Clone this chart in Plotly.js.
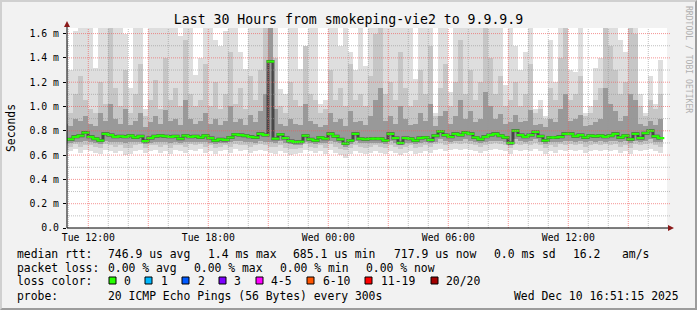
<!DOCTYPE html>
<html><head><meta charset="utf-8">
<script src="https://cdn.plot.ly/plotly-3.0.1.min.js"></script>
<style>
html,body{margin:0;padding:0;background:#f2f2f2;}
#wrap{position:relative;width:697px;height:310px;overflow:hidden;}
#chart{width:697px;height:310px;}
#frame{position:absolute;left:0;top:0;width:697px;height:310px;box-sizing:border-box;border-top:2px solid #d0d0d0;border-left:2px solid #d0d0d0;border-right:2px solid #9c9c9c;border-bottom:2px solid #9c9c9c;pointer-events:none;}
</style></head>
<body><div id="wrap"><div id="chart"></div><div id="frame"></div></div>
<script>
// ---- data (ms), 15-minute bins starting Tue 2025-12-09 10:44 ----
const binStartUTC = Date.UTC(2025, 11, 9, 10, 44, 0);
const binMinutes = 15;

const median = [
 0.73,0.73,0.75,0.76,0.785,0.75,0.735,0.72,0.775,0.765,
 0.75,0.755,0.75,0.76,0.745,0.755,0.715,0.74,0.755,0.76,
 0.755,0.75,0.755,0.735,0.76,0.75,0.755,0.745,0.76,0.74,
 0.72,0.73,0.725,0.745,0.77,0.765,0.76,0.75,0.745,0.775,
 0.765,1.37,0.735,0.77,0.74,0.715,0.707,0.71,0.76,0.73,
 0.72,0.745,0.735,0.775,0.755,0.73,0.695,0.72,0.775,0.735,
 0.73,0.735,0.735,0.735,0.72,0.775,0.74,0.70,0.74,0.735,
 0.72,0.74,0.745,0.725,0.76,0.795,0.765,0.75,0.775,0.765,
 0.785,0.775,0.745,0.73,0.75,0.765,0.775,0.76,0.745,0.70,
 0.80,0.765,0.75,0.765,0.79,0.755,0.72,0.745,0.745,0.75,
 0.775,0.775,0.755,0.765,0.745,0.76,0.755,0.76,0.75,0.76,
 0.775,0.745,0.76,0.73,0.775,0.74,0.78,0.80,0.755,0.74];

const smokeMax = [
 1.55,1.30,1.62,1.70,1.70,1.70,1.32,1.70,1.70,1.70,
 1.70,1.70,1.60,1.15,1.70,1.70,0.98,1.70,1.70,1.70,
 1.70,1.70,1.70,1.58,1.70,1.70,1.26,1.40,1.70,1.70,
 1.55,1.50,1.62,1.70,1.70,1.45,1.31,1.70,1.70,1.70,
 1.70,1.70,1.70,1.14,1.10,1.70,1.70,1.31,1.35,1.70,
 1.70,1.02,1.05,1.70,1.70,1.50,1.70,1.45,1.30,1.70,
 1.33,1.70,1.70,1.70,1.70,1.70,1.70,1.70,1.70,1.70,
 1.23,1.70,1.70,1.70,0.95,1.70,1.70,1.12,1.70,1.70,
 1.70,1.70,1.70,1.70,1.70,1.70,1.70,1.70,1.18,1.70,
 1.50,1.30,1.45,1.70,0.98,1.05,0.92,1.55,1.20,1.70,
 1.70,1.30,1.28,1.70,0.95,1.00,1.32,1.40,1.70,1.70,
 1.70,1.55,1.45,1.70,1.70,1.10,0.95,1.25,1.02,1.38];

const smokeHigh = [
 1.00,0.95,1.10,1.25,1.05,0.98,0.95,1.20,1.02,1.70,
 1.15,1.00,1.30,0.95,1.10,1.35,0.92,1.05,1.22,0.98,
 1.40,1.05,1.15,1.00,1.55,1.10,1.00,1.05,1.35,1.00,
 1.20,0.98,1.10,1.45,1.02,1.15,0.98,1.25,1.05,1.30,
 1.70,1.70,1.40,1.00,0.95,1.20,1.05,1.00,1.50,1.10,
 1.05,0.95,0.98,1.30,1.05,1.15,1.00,1.35,1.05,1.10,
 1.00,1.25,1.60,1.70,1.10,1.20,1.05,1.45,1.15,1.00,
 1.05,1.30,1.10,1.50,0.92,1.15,1.35,1.00,1.20,1.55,
 1.10,1.30,1.05,1.20,1.70,1.40,1.10,1.25,1.00,1.05,
 1.20,1.00,1.10,1.35,0.95,0.98,0.90,1.15,1.05,1.40,
 1.70,1.05,1.10,1.25,0.92,0.95,1.05,1.15,1.70,1.50,
 1.30,1.10,1.20,1.70,1.60,1.00,0.92,1.05,0.98,1.10];

const smokeUpper = [
 0.86,0.84,0.90,0.88,0.92,0.86,0.84,0.95,0.88,1.02,
 0.90,0.86,0.98,0.85,0.88,0.95,0.83,0.87,0.92,0.86,
 0.97,0.88,0.90,0.85,1.05,0.90,0.86,0.88,0.95,0.86,
 0.90,0.85,0.88,1.00,0.87,0.90,0.85,0.93,0.87,0.96,
 1.10,1.70,0.98,0.86,0.84,0.90,0.86,0.85,1.02,0.88,
 0.86,0.83,0.85,0.95,0.87,0.90,0.84,0.96,0.87,0.88,
 0.85,0.92,1.05,1.15,0.88,0.92,0.86,1.00,0.90,0.85,
 0.86,0.95,0.88,1.02,0.84,0.92,0.96,0.86,0.92,1.05,
 0.90,0.96,0.87,0.90,1.12,1.00,0.90,0.94,0.86,0.87,
 0.93,0.87,0.88,0.97,0.85,0.86,0.83,0.90,0.87,0.98,
 1.10,0.88,0.90,0.93,0.84,0.85,0.87,0.90,1.15,1.02,
 0.96,0.88,0.92,1.10,1.05,0.86,0.84,0.88,0.85,0.90];

const smokeMin = [
 0.64,0.63,0.65,0.62,0.64,0.63,0.62,0.61,0.64,0.63,
 0.62,0.63,0.60,0.61,0.63,0.64,0.62,0.63,0.64,0.62,
 0.63,0.61,0.64,0.63,0.62,0.64,0.63,0.65,0.62,0.63,
 0.61,0.63,0.64,0.62,0.65,0.63,0.64,0.62,0.63,0.64,
 0.63,0.62,0.61,0.63,0.62,0.60,0.61,0.62,0.64,0.63,
 0.62,0.63,0.61,0.64,0.62,0.60,0.58,0.61,0.63,0.62,
 0.61,0.62,0.63,0.62,0.61,0.63,0.62,0.60,0.62,0.63,
 0.61,0.62,0.63,0.62,0.64,0.65,0.63,0.64,0.65,0.64,
 0.65,0.64,0.63,0.62,0.63,0.64,0.65,0.64,0.63,0.61,
 0.64,0.63,0.64,0.63,0.65,0.63,0.61,0.63,0.62,0.64,
 0.63,0.64,0.63,0.64,0.62,0.63,0.64,0.63,0.64,0.63,
 0.64,0.62,0.63,0.61,0.64,0.63,0.64,0.65,0.63,0.62];

const smokeLow = [
 0.68,0.67,0.69,0.67,0.68,0.68,0.67,0.66,0.69,0.68,
 0.67,0.68,0.66,0.66,0.68,0.69,0.66,0.68,0.68,0.67,
 0.68,0.66,0.68,0.68,0.67,0.69,0.68,0.69,0.67,0.68,
 0.66,0.67,0.68,0.67,0.69,0.68,0.68,0.67,0.68,0.69,
 0.68,0.67,0.67,0.68,0.66,0.65,0.65,0.66,0.69,0.67,
 0.66,0.68,0.66,0.69,0.67,0.65,0.64,0.66,0.68,0.67,
 0.66,0.67,0.68,0.67,0.66,0.68,0.67,0.65,0.67,0.68,
 0.66,0.67,0.68,0.67,0.69,0.70,0.68,0.69,0.70,0.69,
 0.70,0.69,0.68,0.67,0.68,0.69,0.70,0.69,0.68,0.66,
 0.69,0.68,0.69,0.68,0.70,0.68,0.66,0.68,0.67,0.69,
 0.68,0.69,0.68,0.69,0.67,0.68,0.69,0.68,0.69,0.68,
 0.69,0.67,0.68,0.66,0.69,0.68,0.69,0.70,0.68,0.67];

const smokeLower = [
 0.70,0.70,0.71,0.71,0.72,0.71,0.70,0.69,0.72,0.71,
 0.71,0.71,0.70,0.71,0.71,0.71,0.69,0.70,0.71,0.71,
 0.71,0.70,0.71,0.70,0.71,0.71,0.71,0.71,0.71,0.70,
 0.69,0.70,0.70,0.71,0.72,0.72,0.71,0.71,0.70,0.72,
 0.71,0.71,0.70,0.72,0.70,0.69,0.68,0.68,0.71,0.70,
 0.69,0.70,0.70,0.72,0.71,0.70,0.67,0.69,0.72,0.70,
 0.70,0.70,0.70,0.70,0.69,0.72,0.70,0.68,0.70,0.70,
 0.69,0.70,0.71,0.70,0.71,0.73,0.72,0.71,0.72,0.72,
 0.73,0.72,0.71,0.70,0.71,0.72,0.72,0.72,0.71,0.68,
 0.73,0.72,0.71,0.72,0.73,0.71,0.69,0.71,0.71,0.71,
 0.72,0.72,0.71,0.72,0.71,0.72,0.71,0.72,0.71,0.72,
 0.72,0.71,0.72,0.70,0.72,0.71,0.72,0.73,0.71,0.71];

const xTickVals = ['2025-12-09 12:00','2025-12-09 18:00','2025-12-10 00:00','2025-12-10 06:00','2025-12-10 12:00'];
const xTickText = ['Tue 12:00','Tue 18:00','Wed 00:00','Wed 06:00','Wed 12:00'];
const yTickVals = [0,0.2,0.4,0.6,0.8,1.0,1.2,1.4,1.6];
const yTickText = ['0.0','0.2 m','0.4 m','0.6 m','0.8 m','1.0 m','1.2 m','1.4 m','1.6 m'];

const lossLabels = ['0','1','2','3','4-5','6-10','11-19','20/20'];
const lossColors = ['#26ff00','#00b8ff','#0059ff','#7e00ff','#ff00ff','#ff5500','#ff0000','#a10000'];

// ---- helpers ----
function fmt(ms){ return new Date(ms).toISOString().replace('T',' ').slice(0,19); }
const times = median.map((_, i) => fmt(binStartUTC + (i + 0.5) * binMinutes * 60000));
const barW = binMinutes * 60000;
const MONO = 'DejaVu Sans Mono, monospace';
const PX = px => (px - 67) / 600;
const PY = py => (228 - py) / 200;

function band(lo, hi, color){
  return {type:'bar', x: times, base: lo, y: hi.map((h,i)=>h-lo[i]), width: barW,
          marker:{color: color, line:{width:0}}, hoverinfo:'skip', showlegend:false};
}

const traces = [
  band(smokeMin, smokeMax, '#dedede'),
  band(smokeLow, smokeHigh, '#c6c6c6'),
  band(smokeLower, smokeUpper, '#999999'),
  {type:'scatter', mode:'lines', x: times, y: median, line:{color:'rgba(35,35,35,0.7)', width:3, shape:'hvh'}, hoverinfo:'skip', showlegend:false},
  {type:'scatter', mode:'markers', x: times, y: median,
   marker:{symbol:'line-ew', size:5.5, color:'#26ff00', line:{color:'#26ff00', width:2.2}}, hoverinfo:'skip', showlegend:false}
];

// grid (drawn above the smoke like rrdtool)
const shapes = [];
for (let i = 0; i < 30; i++){
  const ms = Date.UTC(2025, 11, 9, 11 + i);
  const hr = new Date(ms).getUTCHours();
  const major = hr % 3 === 0;
  shapes.push({type:'line', layer:'above', xref:'x', yref:'paper', x0: fmt(ms), x1: fmt(ms), y0: 0, y1: 1,
    line:{color: major ? 'rgba(240,90,90,0.65)' : 'rgba(150,150,150,0.6)', width:1, dash:'1px,1px'}});
}
for (let v = 1; v <= 16; v++){
  const major = v % 2 === 0;
  shapes.push({type:'line', layer:'above', xref:'paper', yref:'y', x0: 0, x1: 1.006, y0: v/10, y1: v/10,
    line:{color: major ? 'rgba(240,90,90,0.65)' : 'rgba(150,150,150,0.6)', width:1, dash:'1px,1px'}});
}
// axis extensions and arrows
shapes.push({type:'line', layer:'above', xref:'paper', yref:'paper', x0: PX(67), x1: PX(670), y0: 0, y1: 0, line:{color:'#000', width:1}});
shapes.push({type:'line', layer:'above', xref:'paper', yref:'paper', x0: 0, x1: 0, y0: 0, y1: PY(25), line:{color:'#000', width:1}});
shapes.push({type:'path', layer:'above', xref:'paper', yref:'paper',
  path:`M ${PX(668)} ${PY(225)} L ${PX(674)} ${PY(228)} L ${PX(668)} ${PY(231)} Z`, fillcolor:'#8b1a1a', line:{width:0}});
shapes.push({type:'path', layer:'above', xref:'paper', yref:'paper',
  path:`M ${PX(64)} ${PY(27)} L ${PX(67)} ${PY(21)} L ${PX(70)} ${PY(27)} Z`, fillcolor:'#8b1a1a', line:{width:0}});

// legend swatches
const swatchX = [109,145,182,219,256,307,365,431];
const textX = [123,160,197,233,270,322,380,445];
lossColors.forEach((c,i)=>{
  shapes.push({type:'rect', layer:'above', xref:'paper', yref:'paper',
    x0: PX(swatchX[i]), x1: PX(swatchX[i]+7), y0: PY(284), y1: PY(277),
    fillcolor: c, line:{color:'#000', width:1}});
});

const annotations = [];
function txt(s, px, py, extra){
  annotations.push(Object.assign({text: s.replace(/ /g,'\u00a0'), xref:'paper', yref:'paper', x: PX(px), y: PY(py),
    xanchor:'left', yanchor:'middle', showarrow:false, borderpad:0, font:{family:MONO, size:11.4, color:'#000'}}, extra||{}));
}
txt('median rtt:', 16, 254);
txt('746.9 us avg', 107, 254);
txt('1.4 ms max', 207, 254);
txt('685.1 us min', 292, 254);
txt('717.9 us now', 393, 254);
txt('0.0 ms sd', 493, 254);
txt('16.2', 572, 254);
txt('am/s', 621, 254);
txt('packet loss:', 16, 268);
txt('0.00 % avg', 107, 268);
txt('0.00 % max', 193, 268);
txt('0.00 % min', 279, 268);
txt('0.00 % now', 365, 268);
txt('loss color:', 16, 281);
lossLabels.forEach((l,i)=>txt(l, textX[i], 281));
txt('probe:', 16, 296);
txt('20 ICMP Echo Pings (56 Bytes) every 300s', 107, 296);
txt('Wed Dec 10 16:51:15 2025', 680, 296, {xanchor:'right'});
txt('Seconds', 11, 128, {xanchor:'center', textangle:-90});
txt('RRDTOOL / TOBI OETIKER', 689, 59, {xanchor:'center', textangle:90, font:{family:MONO, size:8.1, color:'#b0b0b0'}});

const layout = {
  width: 697, height: 310,
  margin: {l:67, r:30, t:28, b:82, pad:0},
  paper_bgcolor: '#f2f2f2', plot_bgcolor: '#ffffff',
  barmode: 'overlay', bargap: 0,
  showlegend: false,
  title: {text:'Last 30 Hours from smokeping-vie2 to 9.9.9.9', x:0.5, xref:'container', xanchor:'center',
          y: 1 - 19/310, yref:'container', yanchor:'middle', font:{family:MONO, size:13.2, color:'#000'}},
  xaxis: {type:'date', range:['2025-12-09 10:56:06','2025-12-10 16:56:06'], tickmode:'array',
          tickvals: xTickVals, ticktext: xTickText, showgrid:false, zeroline:false, showline:false,
          ticks:'', ticklabelstandoff:2, tickfont:{family:MONO, size:9.8, color:'#000'}, fixedrange:true},
  yaxis: {range:[0, 1.646], tickmode:'array', tickvals: yTickVals, ticktext: yTickText,
          showgrid:false, zeroline:false, showline:false, ticks:'outside', ticklen:3, tickcolor:'#000', tickwidth:1,
          ticklabelstandoff:2, tickfont:{family:MONO, size:9.8, color:'#000'}, fixedrange:true},
  shapes: shapes,
  annotations: annotations
};

Plotly.newPlot('chart', traces, layout, {staticPlot:true, displayModeBar:false});
</script>
</body></html>
